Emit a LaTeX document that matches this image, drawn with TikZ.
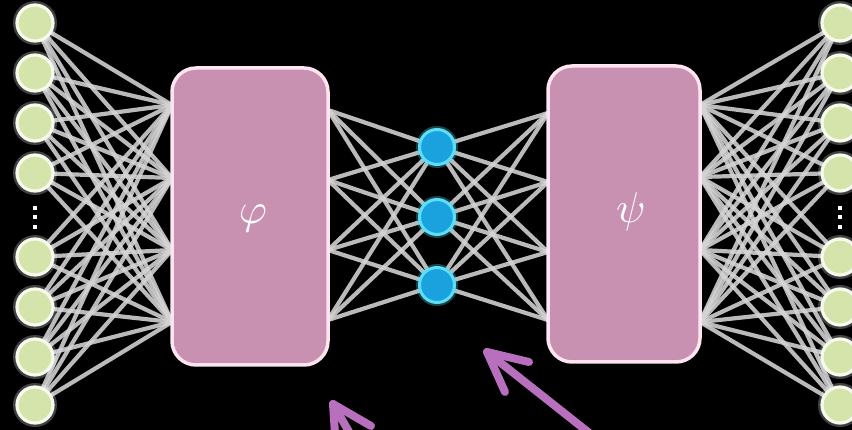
\documentclass[tikz,border=0pt]{standalone}
\usetikzlibrary{arrows.meta}
\definecolor{nodegreen}{RGB}{212,228,170}
\definecolor{rimwhite}{RGB}{246,250,236}
\definecolor{codeblue}{RGB}{26,162,223}
\definecolor{rimcyan}{RGB}{92,222,246}
\definecolor{blockpink}{RGB}{200,145,178}
\definecolor{rimpink}{RGB}{253,228,238}
\definecolor{linkgray}{RGB}{212,212,212}
\definecolor{arrowpurple}{RGB}{184,112,190}
\begin{document}
\begin{tikzpicture}[x=1pt,y=-1pt,
  link/.style={line width=4.2pt, draw=linkgray, opacity=0.88},
  inputnode/.style={circle, minimum size=36pt, inner sep=0pt, fill=nodegreen,
    draw=rimwhite, line width=3.2pt,
    preaction={draw=white, line width=8pt, opacity=0.25}},
  codenode/.style={circle, minimum size=35pt, inner sep=0pt, fill=codeblue,
    draw=rimcyan, line width=3pt,
    preaction={draw=rimcyan, line width=7pt, opacity=0.3}},
  block/.style={rounded corners=24pt, fill=blockpink, draw=rimpink,
    line width=3.5pt, inner sep=0pt},
  glyph/.style={text=white, scale=4.3, inner sep=0pt},
  ellipsisdot/.style={fill=white, minimum size=4pt, inner sep=0pt},
  pointer/.style={draw=arrowpurple, line width=8pt, line cap=round, line join=round}]

% canvas
\fill[black] (0,0) rectangle (852,430);
\useasboundingbox (0,0) rectangle (852,430);

% attachment points on the block edges (hidden layers)
\foreach \y [count=\i] in {105,178,250,322} \coordinate (encin-\i) at (172,\y);
\foreach \y [count=\i] in {110,180,250,320} \coordinate (encout-\i) at (328,\y);
\foreach \y [count=\i] in {113,182,252,320} \coordinate (decin-\i) at (548,\y);
\foreach \y [count=\i] in {105,177,250,322} \coordinate (decout-\i) at (700,\y);

% input / output units
\foreach \y [count=\i] in {23,73,123,173,257,307,357,405} {
  \coordinate (inpos-\i) at (35,\y);
  \coordinate (outpos-\i) at (840,\y);
}

% latent code units
\foreach \y [count=\i] in {147,217,285} \coordinate (zpos-\i) at (437,\y);

% connections (drawn first so units and blocks sit on top)
\foreach \i in {1,...,8} \foreach \j in {1,...,4} {
  \draw[link] (inpos-\i) -- (encin-\j);
  \draw[link] (outpos-\i) -- (decout-\j);
}
\foreach \i in {1,2,3} \foreach \j in {1,...,4} {
  \draw[link] (zpos-\i) -- (encout-\j);
  \draw[link] (zpos-\i) -- (decin-\j);
}

% encoder and decoder blocks
\node[block, minimum width=156pt, minimum height=297pt] (enc) at (250,216.5) {};
\node[block, minimum width=152pt, minimum height=296pt] (dec) at (624,214) {};
\node[glyph] (phi) at (253,218) {$\varphi$};
\node[glyph] (psi) at (631,212) {$\psi$};

% units
\foreach \i in {1,...,8} {
  \node[inputnode] (in-\i) at (inpos-\i) {};
  \node[inputnode] (out-\i) at (outpos-\i) {};
}
\foreach \i in {1,2,3} \node[codenode] (z-\i) at (zpos-\i) {};

% vertical ellipses
\foreach \y [count=\i] in {208,217,227} {
  \node[ellipsisdot] (ldot-\i) at (35,\y) {};
  \node[ellipsisdot] (rdot-\i) at (840,\y) {};
}

% pointers
\begin{scope}
  \clip (0,0) rectangle (852,430);
  \coordinate (tipA) at (333,404);
  \coordinate (tipB) at (487,352);
  \draw[pointer] (tipA) ++(38,22) -- (tipA) -- ++(3,44);
  \draw[pointer] (tipA) -- ++(60,104);
  \draw[pointer] (tipB) ++(42,10) -- (tipB) -- ++(18,40);
  \draw[pointer] (tipB) -- ++(120,95);
\end{scope}
\end{tikzpicture}
\end{document}
